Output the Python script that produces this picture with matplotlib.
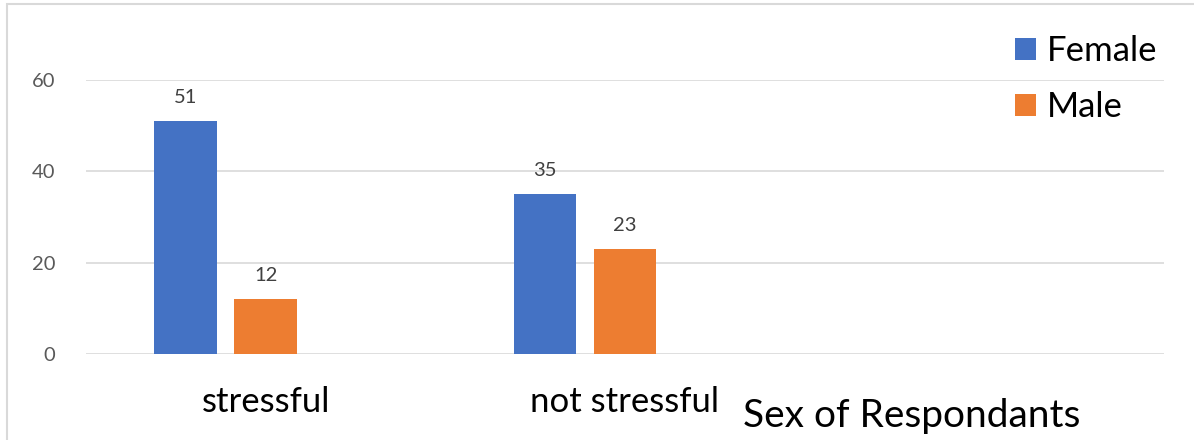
import matplotlib.pyplot as plt
import matplotlib.patches as mpatches
import numpy as np

categories = ["stressful", "not stressful", ""]
series = ["Female", "Male"]
female = [51, 35]
male = [12, 23]
colors = ["#4472C4", "#ED7D31"]

plt.rcParams["font.family"] = ["Lato", "DejaVu Sans"]

fig = plt.figure(figsize=(11.94, 4.40), dpi=100)
ax = fig.add_axes([86 / 1194, 1 - 354 / 440, (1164 - 86) / 1194, (354 - 80) / 440])

# chart border (only left and top edges show in the crop)
fig.patches.append(mpatches.Rectangle((7 / 1194, -0.2), 1.2, 1.2 - 4 / 440,
                                      transform=fig.transFigure, fill=False,
                                      edgecolor="#d9d9d9", linewidth=1.5))

width = 0.175
step = 0.2226
x = np.arange(len(female))
for i, (name, vals, c) in enumerate(zip(series, [female, male], colors)):
    pos = x + (i - 1) * step
    ax.bar(pos, vals, width=width, color=c, label=name, zorder=3)
    for p, v in zip(pos, vals):
        ax.annotate(str(v), (p, v), xytext=(0, 11), textcoords="offset points",
                    ha="center", va="bottom", fontsize=14.5, color="#404040")

ax.set_xlim(-0.5, len(categories) - 0.5)
ax.set_ylim(0, 60)
ax.set_yticks([0, 20, 40, 60])
ax.set_xticks(np.arange(len(categories)))
ax.set_xticklabels(categories, fontsize=25, color="black")
ax.tick_params(axis="x", length=0, pad=23)
ax.tick_params(axis="y", length=0, pad=22, labelsize=14.5, labelcolor="#595959")
ax.grid(axis="y", color="#d9d9d9", linewidth=1.2, zorder=0)
for s in ax.spines.values():
    s.set_visible(False)

fig.text(743 / 1194, 1 - 416 / 440, "Sex of Respondants", fontsize=28,
         ha="left", va="center", color="black")

ax.legend(loc="upper left", bbox_to_anchor=(991 / 1194, 1 - 11 / 440),
          bbox_transform=fig.transFigure, frameon=False, fontsize=25,
          handlelength=0.6, handleheight=0.6, handletextpad=0.3,
          labelspacing=0.68, borderpad=0.2)

fig.savefig("out.png", dpi=100)
